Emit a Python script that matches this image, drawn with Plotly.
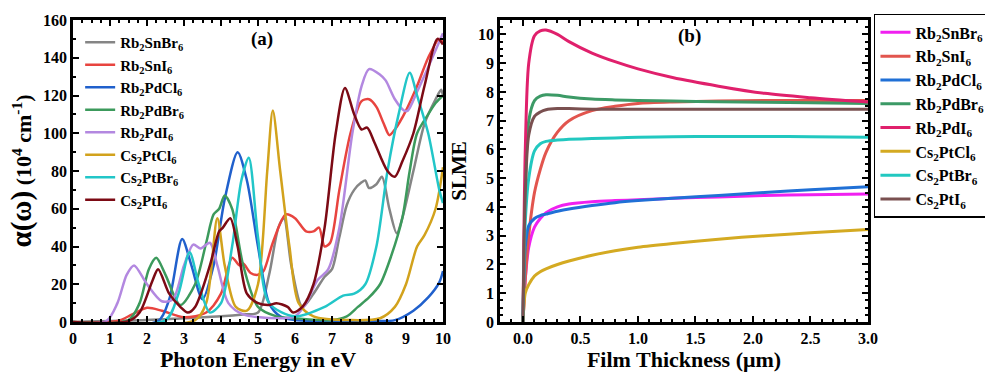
import plotly.graph_objects as go

names = ["Rb<sub>2</sub>SnBr<sub>6</sub>", "Rb<sub>2</sub>SnI<sub>6</sub>", "Rb<sub>2</sub>PdCl<sub>6</sub>",
         "Rb<sub>2</sub>PdBr<sub>6</sub>", "Rb<sub>2</sub>PdI<sub>6</sub>", "Cs<sub>2</sub>PtCl<sub>6</sub>",
         "Cs<sub>2</sub>PtBr<sub>6</sub>", "Cs<sub>2</sub>PtI<sub>6</sub>"]

# ---- panel (a): absorption coefficient vs photon energy ----
e_snbr = [0, 2.0, 3.0, 4.0, 4.6, 5.0, 5.3, 5.55, 5.7, 5.9, 6.2, 6.5, 6.8, 7.0, 7.2, 7.4, 7.6, 7.8, 7.9, 8.0, 8.2, 8.35, 8.55, 8.75, 8.9, 9.2, 9.5, 9.8, 9.95, 10]
a_snbr = [0, 1, 2, 3, 4, 5, 25, 50, 55, 30, 8, 15, 24, 28, 45, 62, 70, 74, 75, 71, 73, 77, 60, 47, 55, 80, 105, 118, 123, 120]

e_sni = [0, 1.2, 1.6, 2.0, 2.4, 3.0, 3.6, 4.0, 4.3, 4.5, 4.6, 4.8, 5.0, 5.15, 5.4, 5.75, 6.0, 6.3, 6.5, 6.65, 6.8, 6.95, 7.2, 7.5, 7.8, 8.0, 8.2, 8.4, 8.55, 8.7, 9.0, 9.3, 9.6, 9.9, 10]
a_sni = [0, 0.5, 4, 7.5, 6, 2.5, 5, 15, 34, 30, 31, 26, 25, 27, 42, 57, 55, 48, 48, 50, 40, 42, 70, 100, 117, 118, 114, 105, 99, 102, 112, 125, 140, 150, 148]

e_pdcl = [0, 2.3, 2.6, 2.95, 3.2, 3.5, 3.8, 4.1, 4.45, 4.7, 5.0, 5.3, 5.6, 6.0, 7.0, 8.0, 8.7, 9.2, 9.6, 9.9, 10]
a_pdcl = [0, 0.5, 12, 44, 30, 12, 30, 65, 90, 75, 40, 10, 3, 1, 0.5, 0.5, 1, 6, 13, 21, 27]

e_pdbr = [0, 1.5, 1.8, 2.05, 2.25, 2.5, 2.9, 3.3, 3.6, 3.8, 3.95, 4.1, 4.3, 4.6, 5.0, 5.5, 6.0, 7.0, 7.4, 7.7, 8.0, 8.3, 8.6, 8.9, 9.1, 9.3, 9.6, 9.8, 10]
a_pdbr = [0, 1, 10, 28, 34, 25, 9, 20, 42, 57, 60, 67, 60, 30, 8, 3, 2, 1, 3, 8, 13, 20, 35, 55, 80, 100, 110, 116, 120]

e_pdi = [0, 0.9, 1.2, 1.45, 1.65, 2.0, 2.4, 2.7, 3.0, 3.25, 3.45, 3.7, 3.9, 4.2, 4.6, 5.5, 6.0, 6.3, 6.6, 6.9, 7.2, 7.55, 7.8, 8.0, 8.3, 8.45, 8.7, 8.95, 9.05, 9.3, 9.6, 10]
a_pdi = [0, 0.5, 10, 25, 30, 20, 11, 12, 30, 41, 39, 42, 30, 10, 4, 2, 3, 10, 22, 28, 50, 100, 125, 134, 131, 128, 118, 112, 112, 122, 135, 153]

e_ptcl = [0, 3.3, 3.6, 3.9, 4.1, 4.4, 4.7, 5.0, 5.25, 5.4, 5.6, 5.85, 6.1, 6.5, 7.5, 8.3, 8.7, 9.0, 9.3, 9.5, 9.8, 10]
a_ptcl = [0, 1, 10, 55, 30, 8, 6, 20, 80, 112, 80, 40, 10, 3, 1, 2, 8, 20, 40, 46, 60, 82]

e_ptbr = [0, 2.5, 2.85, 3.15, 3.4, 3.7, 4.0, 4.3, 4.55, 4.75, 5.0, 5.3, 6.0, 6.8, 7.3, 7.6, 7.9, 8.2, 8.5, 8.8, 9.1, 9.3, 9.6, 9.9, 10]
a_ptbr = [0, 1, 15, 37, 20, 5, 10, 40, 75, 87, 45, 10, 3, 8, 14, 15, 20, 40, 80, 110, 132, 120, 100, 70, 63]

e_pti = [0, 1.5, 1.8, 2.15, 2.3, 2.6, 2.9, 3.1, 3.3, 3.7, 3.95, 4.05, 4.25, 4.45, 4.7, 5.0, 5.3, 5.5, 5.8, 5.95, 6.2, 6.5, 6.8, 7.1, 7.35, 7.6, 7.8, 7.95, 8.15, 8.5, 8.7, 8.9, 9.2, 9.5, 9.85, 10]
a_pti = [0, 0.5, 5, 22, 28, 15, 8, 5, 8, 30, 48, 50, 55, 40, 15, 10, 9, 10, 8, 5, 8, 20, 50, 100, 124, 110, 102, 103, 95, 80, 77, 85, 100, 125, 150, 147]

colors_a = ["#858585", "#e8443f", "#2060cc", "#3c9a5c", "#b388e0", "#d2a21c", "#22c6c8", "#7c0a14"]
energies = [e_snbr, e_sni, e_pdcl, e_pdbr, e_pdi, e_ptcl, e_ptbr, e_pti]
alphas = [a_snbr, a_sni, a_pdcl, a_pdbr, a_pdi, a_ptcl, a_ptbr, a_pti]

# ---- panel (b): SLME vs film thickness ----
t_common = [0, 0.02, 0.05, 0.1, 0.15, 0.2, 0.3, 0.4, 0.6, 0.8, 1.0, 1.3, 1.7, 2.1, 2.5, 3.0]
s_snbr = [0, 1.5, 2.6, 3.3, 3.6, 3.8, 4.0, 4.1, 4.18, 4.22, 4.25, 4.3, 4.35, 4.4, 4.42, 4.45]
s_sni = [0, 1.5, 3.0, 4.5, 5.3, 5.9, 6.6, 7.0, 7.35, 7.5, 7.6, 7.65, 7.68, 7.7, 7.7, 7.7]
s_pdcl = [0, 2.6, 3.35, 3.6, 3.7, 3.75, 3.85, 3.93, 4.05, 4.15, 4.22, 4.3, 4.4, 4.5, 4.6, 4.7]
s_pdbr = [0, 4.5, 7.0, 7.7, 7.85, 7.9, 7.88, 7.82, 7.75, 7.72, 7.7, 7.68, 7.66, 7.64, 7.62, 7.6]
s_pdi = [0, 6.0, 9.0, 9.95, 10.12, 10.15, 10.0, 9.75, 9.35, 9.05, 8.8, 8.5, 8.2, 7.95, 7.8, 7.65]
s_ptcl = [0, 1.0, 1.3, 1.6, 1.75, 1.85, 2.0, 2.12, 2.32, 2.48, 2.6, 2.73, 2.88, 3.0, 3.1, 3.22]
s_ptbr = [0, 3.5, 5.0, 5.95, 6.2, 6.28, 6.33, 6.35, 6.38, 6.4, 6.42, 6.44, 6.45, 6.45, 6.44, 6.42]
s_pti = [0, 4.5, 6.5, 7.15, 7.3, 7.38, 7.42, 7.42, 7.4, 7.4, 7.4, 7.4, 7.4, 7.4, 7.4, 7.4]

colors_b = ["#f020f0", "#e2554e", "#2070d6", "#3c9a66", "#e0206c", "#d4aa22", "#22c8c0", "#7a5050"]
slme = [s_snbr, s_sni, s_pdcl, s_pdbr, s_pdi, s_ptcl, s_ptbr, s_pti]

fig = go.Figure()
for i in range(8):
    fig.add_trace(go.Scatter(x=energies[i], y=alphas[i], mode="lines", name="<b>" + names[i] + "</b>",
                             line=dict(color=colors_a[i], width=2.5, shape="spline", smoothing=0.8),
                             xaxis="x", yaxis="y", legend="legend", legendgroup="a%d" % i))
for i in range(8):
    fig.add_trace(go.Scatter(x=t_common, y=slme[i], mode="lines", name="<b>" + names[i] + "</b>",
                             line=dict(color=colors_b[i], width=3, shape="spline", smoothing=0.8),
                             xaxis="x2", yaxis="y2", legend="legend2", legendgroup="b%d" % i))

font = "'Liberation Serif', 'Times New Roman', serif"
axis_common = dict(showline=True, linecolor="black", linewidth=2.5, mirror="ticks", ticks="inside",
                   ticklen=6, tickwidth=2, tickcolor="black", showgrid=False, zeroline=False,
                   automargin=False,
                   tickfont=dict(family=font, size=16, color="black"))
title_font = dict(family=font, size=22, color="black")

# plot area: x 73..868 px, y 20..322 px
fig.update_layout(
    width=985, height=372, margin=dict(l=73, r=117, t=20, b=50, autoexpand=False),
    plot_bgcolor="white", paper_bgcolor="white",
    font=dict(family=font, color="black"),
    xaxis=dict(domain=[0.0, 0.4654], range=[0, 10], dtick=1, anchor="y",
               title=dict(text="<b>Photon Energy in eV</b>", standoff=6, font=title_font),
               minor=dict(dtick=0.25, ticks="inside", ticklen=3, tickwidth=1.5, tickcolor="black"),
               tickprefix="<b>", ticksuffix="</b>", **axis_common),
    yaxis=dict(domain=[0.0, 1.0], range=[0, 160], dtick=20, anchor="x",
               title=dict(text="<b><span style='font-size:29px'>α(ω)</span> (10<sup>4</sup> cm<sup>-1</sup>)</b>",
                          standoff=6, font=title_font),
               minor=dict(dtick=10, ticks="inside", ticklen=3, tickwidth=1.5, tickcolor="black"),
               tickprefix="<b>", ticksuffix="</b>", **axis_common),
    xaxis2=dict(domain=[0.5371, 1.0], range=[-0.2, 3.0], dtick=0.5, tickformat=".1f", anchor="y2",
                title=dict(text="<b>Film Thickness (μm)</b>", standoff=6, font=title_font),
                minor=dict(dtick=0.1, ticks="inside", ticklen=3, tickwidth=1.5, tickcolor="black"),
                tickprefix="<b>", ticksuffix="</b>", **axis_common),
    yaxis2=dict(domain=[0.0, 1.0], range=[0, 10.5], dtick=1, anchor="x2",
                title=dict(text="<b>SLME</b>", standoff=6, font=dict(family=font, size=21, color="black")),
                minor=dict(dtick=0.25, ticks="inside", ticklen=3, tickwidth=1.5, tickcolor="black"),
                tickprefix="<b>", ticksuffix="</b>", **axis_common),
    legend=dict(x=0.009, y=0.98, xanchor="left", yanchor="top", bgcolor="rgba(0,0,0,0)",
                borderwidth=0, font=dict(family=font, size=15, color="black"),
                traceorder="grouped", tracegroupgap=0, itemwidth=30),
    legend2=dict(x=1.0075, y=1.02, xanchor="left", yanchor="top", bgcolor="white",
                 bordercolor="black", borderwidth=1.5, font=dict(family=font, size=16, color="black"),
                 traceorder="grouped", tracegroupgap=0, itemwidth=30, maxheight=320),
    annotations=[
        dict(text="<b>(a)</b>", x=5.1, y=150, xref="x", yref="y", showarrow=False,
             font=dict(family=font, size=19, color="black")),
        dict(text="<b>(b)</b>", x=1.45, y=9.95, xref="x2", yref="y2", showarrow=False,
             font=dict(family=font, size=19, color="black")),
    ],
)

fig.write_html("out.html", config={"displayModeBar": False},
               post_script="document.body.style.margin='0px';document.body.style.overflow='hidden';")
